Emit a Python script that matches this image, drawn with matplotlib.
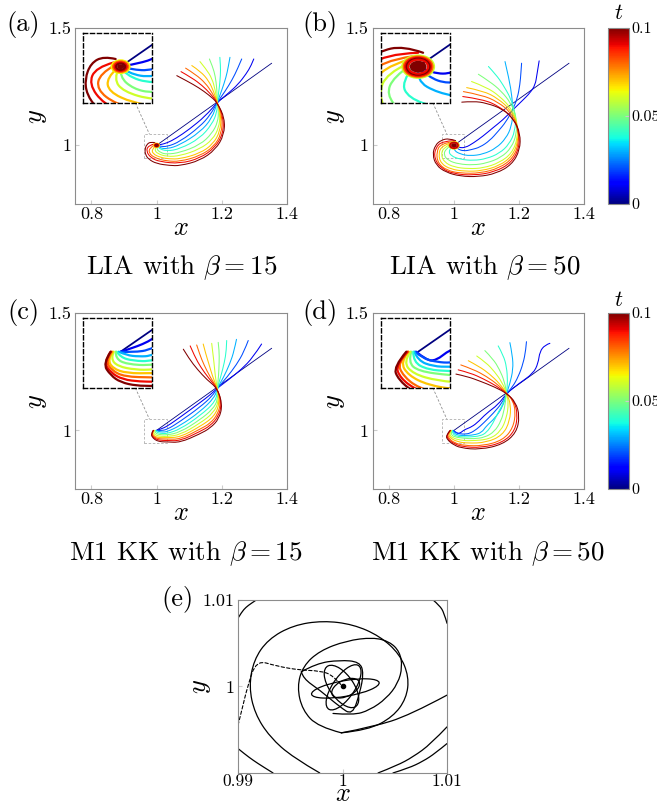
import matplotlib
matplotlib.use('Agg')
import matplotlib.pyplot as plt
from matplotlib.patches import Circle, Ellipse, Rectangle, PathPatch
from matplotlib.path import Path
from matplotlib.colors import Normalize
from matplotlib.cm import ScalarMappable

plt.rcParams['font.family'] = 'serif'
plt.rcParams['font.serif'] = ['cmr10']
plt.rcParams['mathtext.fontset'] = 'cm'
plt.rcParams['axes.unicode_minus'] = False
plt.rcParams['axes.formatter.use_mathtext'] = True

# temps des instantanés (couleur jet)
times = [0.0, 0.01, 0.02, 0.03, 0.04, 0.05, 0.06, 0.07, 0.08, 0.09, 0.1]

# (a) LIA beta = 15
curves_a = [
    [(1.0, 1.0), (1.353, 1.35)],
    [(1.0, 1.0), (1.012, 1.003), (1.032, 1.01), (1.06, 1.03), (1.1, 1.068), (1.15, 1.125), (1.186, 1.183), (1.22, 1.222), (1.25, 1.26), (1.275, 1.305), (1.29, 1.34), (1.298, 1.368)],
    [(1.0, 1.0), (1.01, 0.996), (1.032, 0.994), (1.072, 1.016), (1.133, 1.08), (1.165, 1.13), (1.186, 1.183), (1.21, 1.23), (1.232, 1.28), (1.248, 1.325), (1.261, 1.368)],
    [(1.0, 1.0), (1.008, 0.99), (1.032, 0.984), (1.072, 1.002), (1.133, 1.056), (1.17, 1.115), (1.186, 1.183), (1.2, 1.235), (1.213, 1.29), (1.22, 1.335), (1.225, 1.375)],
    [(1.0, 1.0), (1.005, 0.987), (1.032, 0.975), (1.072, 0.985), (1.133, 1.03), (1.17, 1.09), (1.185, 1.14), (1.186, 1.183), (1.192, 1.24), (1.196, 1.3), (1.196, 1.34), (1.194, 1.375)],
    [(1.0, 1.0), (0.999, 0.985), (1.013, 0.968), (1.032, 0.962), (1.072, 0.969), (1.133, 1.002), (1.17, 1.05), (1.188, 1.1), (1.19, 1.145), (1.186, 1.183), (1.185, 1.24), (1.18, 1.295), (1.172, 1.335), (1.162, 1.368)],
    [(0.998, 0.998), (0.993, 0.982), (1.003, 0.964), (1.032, 0.952), (1.072, 0.955), (1.133, 0.984), (1.172, 1.025), (1.191, 1.075), (1.195, 1.13), (1.186, 1.183), (1.18, 1.235), (1.17, 1.285), (1.152, 1.325), (1.133, 1.357)],
    [(0.996, 0.997), (0.986, 0.984), (0.988, 0.964), (1.012, 0.948), (1.04, 0.942), (1.072, 0.942), (1.133, 0.966), (1.173, 1.005), (1.195, 1.06), (1.198, 1.125), (1.186, 1.183), (1.175, 1.23), (1.16, 1.275), (1.135, 1.315), (1.108, 1.34)],
    [(0.994, 1.002), (0.979, 0.99), (0.976, 0.967), (0.995, 0.946), (1.03, 0.933), (1.072, 0.931), (1.133, 0.955), (1.176, 0.995), (1.199, 1.05), (1.202, 1.12), (1.186, 1.183), (1.17, 1.225), (1.15, 1.265), (1.12, 1.302), (1.089, 1.329)],
    [(0.993, 1.006), (0.975, 0.999), (0.968, 0.975), (0.983, 0.946), (1.01, 0.93), (1.072, 0.922), (1.133, 0.945), (1.179, 0.99), (1.204, 1.05), (1.205, 1.12), (1.186, 1.183), (1.165, 1.22), (1.14, 1.255), (1.108, 1.288), (1.075, 1.314)],
    [(0.995, 1.011), (0.983, 1.015), (0.97, 1.005), (0.964, 0.982), (0.966, 0.96), (0.976, 0.94), (1.0, 0.922), (1.04, 0.914), (1.072, 0.913), (1.133, 0.935), (1.181, 0.982), (1.207, 1.045), (1.209, 1.115), (1.186, 1.183), (1.16, 1.215), (1.13, 1.245), (1.095, 1.273), (1.062, 1.297)],
]
core_a_r = [0.009, 0.0075, 0.006, 0.0045]
core_a_t = [0.065, 0.08, 0.09, 0.1]
core_a_fill = 0.0035

# (b) LIA beta = 50
curves_b = [
    [(1.0, 1.0), (1.354, 1.35)],
    [(1.0, 1.0), (1.015, 0.99), (1.035, 0.99), (1.06, 1.01), (1.09, 1.04), (1.12, 1.075), (1.15, 1.108), (1.18, 1.15), (1.21, 1.19), (1.235, 1.225), (1.25, 1.258), (1.255, 1.3), (1.262, 1.36)],
    [(1.0, 1.0), (1.01, 0.985), (1.03, 0.975), (1.055, 0.982), (1.08, 0.992), (1.11, 1.02), (1.136, 1.06), (1.16, 1.1), (1.18, 1.15), (1.195, 1.2), (1.203, 1.26), (1.206, 1.31), (1.208, 1.35)],
    [(1.0, 1.0), (0.998, 0.98), (1.02, 0.962), (1.05, 0.955), (1.09, 0.962), (1.13, 0.988), (1.16, 1.03), (1.177, 1.08), (1.182, 1.145), (1.178, 1.21), (1.17, 1.28), (1.157, 1.357)],
    [(0.995, 1.0), (0.983, 0.978), (0.99, 0.955), (1.02, 0.94), (1.06, 0.935), (1.1, 0.943), (1.14, 0.966), (1.17, 1.005), (1.188, 1.06), (1.19, 1.13), (1.175, 1.2), (1.15, 1.26), (1.13, 1.3), (1.106, 1.336)],
    [(0.992, 1.002), (0.975, 0.985), (0.968, 0.96), (0.982, 0.935), (1.015, 0.92), (1.06, 0.916), (1.1, 0.924), (1.145, 0.948), (1.177, 0.99), (1.193, 1.05), (1.193, 1.12), (1.175, 1.18), (1.145, 1.232), (1.11, 1.272), (1.075, 1.303)],
    [(0.99, 1.005), (0.968, 0.99), (0.96, 0.96), (0.97, 0.928), (1.0, 0.907), (1.045, 0.9), (1.09, 0.903), (1.14, 0.926), (1.178, 0.966), (1.196, 1.03), (1.195, 1.1), (1.175, 1.16), (1.14, 1.21), (1.1, 1.248), (1.054, 1.272)],
    [(0.99, 1.01), (0.962, 0.998), (0.952, 0.962), (0.96, 0.922), (0.99, 0.898), (1.035, 0.889), (1.085, 0.891), (1.14, 0.913), (1.18, 0.955), (1.198, 1.02), (1.196, 1.09), (1.175, 1.15), (1.135, 1.2), (1.09, 1.232), (1.039, 1.246)],
    [(0.995, 1.015), (0.96, 1.008), (0.946, 0.972), (0.95, 0.925), (0.978, 0.893), (1.02, 0.881), (1.08, 0.881), (1.14, 0.903), (1.182, 0.946), (1.2, 1.01), (1.197, 1.08), (1.175, 1.14), (1.135, 1.185), (1.085, 1.215), (1.029, 1.229)],
    [(1.0, 1.02), (0.965, 1.018), (0.943, 0.99), (0.939, 0.945), (0.96, 0.902), (1.0, 0.878), (1.06, 0.872), (1.125, 0.886), (1.177, 0.926), (1.201, 0.99), (1.2, 1.06), (1.18, 1.12), (1.14, 1.165), (1.09, 1.196), (1.027, 1.208)],
    [(1.005, 1.02), (0.985, 1.03), (0.96, 1.022), (0.942, 1.0), (0.934, 0.96), (0.945, 0.915), (0.975, 0.885), (1.02, 0.868), (1.075, 0.866), (1.13, 0.88), (1.178, 0.918), (1.203, 0.98), (1.204, 1.05), (1.185, 1.11), (1.15, 1.155), (1.1, 1.18), (1.06, 1.188), (1.024, 1.184)],
]
core_b_r = [0.016, 0.0145, 0.013, 0.0115, 0.01]
core_b_t = [0.06, 0.08, 0.09, 0.1, 0.09]
core_b_fill = 0.0085

# (c) M1 KK beta = 15
curves_c = [
    [(1.0, 1.0), (1.353, 1.35)],
    [(1.0, 1.0), (1.012, 1.005), (1.032, 1.017), (1.072, 1.056), (1.133, 1.118), (1.165, 1.152), (1.186, 1.18), (1.22, 1.215), (1.26, 1.26), (1.295, 1.31), (1.322, 1.368)],
    [(1.0, 1.0), (1.012, 0.999), (1.032, 1.003), (1.072, 1.038), (1.133, 1.099), (1.17, 1.145), (1.186, 1.18), (1.215, 1.225), (1.245, 1.28), (1.268, 1.335), (1.281, 1.383)],
    [(0.998, 1.0), (1.006, 0.995), (1.018, 0.993), (1.032, 0.994), (1.072, 1.02), (1.133, 1.079), (1.178, 1.14), (1.186, 1.18), (1.205, 1.225), (1.225, 1.285), (1.238, 1.34), (1.245, 1.388)],
    [(0.996, 1.0), (1.0, 0.992), (1.012, 0.987), (1.032, 0.986), (1.072, 1.005), (1.133, 1.062), (1.183, 1.125), (1.186, 1.18), (1.197, 1.23), (1.208, 1.29), (1.214, 1.34), (1.215, 1.383)],
    [(0.995, 1.0), (0.995, 0.99), (1.006, 0.982), (1.032, 0.98), (1.072, 0.992), (1.133, 1.045), (1.172, 1.09), (1.188, 1.13), (1.186, 1.18), (1.19, 1.23), (1.192, 1.29), (1.192, 1.34), (1.189, 1.375)],
    [(0.993, 1.0), (0.99, 0.99), (0.997, 0.979), (1.015, 0.974), (1.032, 0.974), (1.072, 0.981), (1.133, 1.03), (1.175, 1.075), (1.191, 1.125), (1.186, 1.18), (1.18, 1.23), (1.176, 1.29), (1.172, 1.335), (1.169, 1.371)],
    [(0.992, 1.0), (0.987, 0.989), (0.992, 0.976), (1.006, 0.969), (1.032, 0.969), (1.072, 0.971), (1.133, 1.016), (1.178, 1.06), (1.194, 1.12), (1.186, 1.18), (1.172, 1.228), (1.16, 1.285), (1.15, 1.33), (1.143, 1.368)],
    [(0.991, 1.0), (0.985, 0.987), (0.991, 0.973), (1.004, 0.964), (1.032, 0.963), (1.072, 0.962), (1.133, 1.005), (1.165, 1.03), (1.188, 1.07), (1.197, 1.12), (1.186, 1.18), (1.165, 1.225), (1.145, 1.28), (1.132, 1.325), (1.123, 1.364)],
    [(0.99, 1.0), (0.983, 0.985), (0.99, 0.97), (1.002, 0.96), (1.02, 0.957), (1.032, 0.957), (1.072, 0.955), (1.133, 0.995), (1.165, 1.02), (1.19, 1.06), (1.2, 1.115), (1.186, 1.18), (1.16, 1.222), (1.135, 1.27), (1.117, 1.315), (1.103, 1.36)],
    [(0.99, 1.0), (0.982, 0.983), (0.99, 0.966), (1.0, 0.956), (1.016, 0.951), (1.032, 0.951), (1.072, 0.948), (1.133, 0.985), (1.165, 1.01), (1.192, 1.05), (1.202, 1.11), (1.186, 1.18), (1.155, 1.215), (1.125, 1.26), (1.1, 1.305), (1.082, 1.346)],
]

# (d) M1 KK beta = 50
curves_d = [
    [(1.0, 1.0), (1.354, 1.35)],
    [(0.998, 1.0), (1.008, 0.988), (1.018, 0.987), (1.032, 1.003), (1.05, 1.012), (1.07, 1.03), (1.1, 1.073), (1.136, 1.11), (1.162, 1.158), (1.2, 1.2), (1.244, 1.243), (1.259, 1.286), (1.264, 1.336), (1.28, 1.364), (1.295, 1.371)],
    [(0.997, 1.0), (1.005, 0.99), (1.02, 0.985), (1.032, 0.984), (1.049, 0.987), (1.07, 1.005), (1.09, 1.03), (1.121, 1.073), (1.147, 1.115), (1.162, 1.158), (1.18, 1.185), (1.198, 1.229), (1.213, 1.286), (1.221, 1.343), (1.223, 1.378)],
    [(0.996, 1.0), (1.0, 0.987), (1.015, 0.979), (1.032, 0.978), (1.06, 0.98), (1.085, 0.99), (1.1, 1.02), (1.125, 1.05), (1.15, 1.1), (1.162, 1.158), (1.172, 1.2), (1.182, 1.26), (1.18, 1.32), (1.172, 1.374)],
    [(0.995, 1.0), (0.995, 0.985), (1.01, 0.974), (1.032, 0.972), (1.05, 0.972), (1.08, 0.976), (1.1, 0.99), (1.12, 1.03), (1.135, 1.075), (1.15, 1.11), (1.162, 1.158), (1.165, 1.21), (1.162, 1.27), (1.152, 1.32), (1.136, 1.36)],
    [(0.993, 1.0), (0.99, 0.985), (1.0, 0.972), (1.032, 0.966), (1.06, 0.964), (1.095, 0.97), (1.125, 0.995), (1.145, 1.04), (1.155, 1.09), (1.162, 1.158), (1.155, 1.21), (1.14, 1.26), (1.12, 1.305), (1.095, 1.34)],
    [(0.992, 1.0), (0.985, 0.985), (0.995, 0.968), (1.02, 0.958), (1.05, 0.955), (1.11, 0.962), (1.145, 0.998), (1.162, 1.055), (1.168, 1.115), (1.162, 1.158), (1.148, 1.205), (1.125, 1.25), (1.098, 1.29), (1.07, 1.317)],
    [(0.99, 1.0), (0.982, 0.985), (0.99, 0.966), (1.01, 0.952), (1.04, 0.945), (1.1, 0.948), (1.15, 0.98), (1.172, 1.04), (1.175, 1.11), (1.162, 1.158), (1.14, 1.2), (1.11, 1.24), (1.078, 1.272), (1.044, 1.297)],
    [(0.99, 1.0), (0.979, 0.984), (0.985, 0.965), (1.0, 0.948), (1.03, 0.935), (1.09, 0.934), (1.15, 0.958), (1.182, 1.01), (1.19, 1.08), (1.18, 1.13), (1.162, 1.158), (1.135, 1.195), (1.1, 1.23), (1.06, 1.26), (1.021, 1.279)],
    [(0.989, 1.0), (0.977, 0.981), (0.982, 0.962), (0.998, 0.945), (1.025, 0.93), (1.085, 0.926), (1.15, 0.948), (1.188, 0.998), (1.196, 1.07), (1.185, 1.125), (1.162, 1.158), (1.13, 1.19), (1.09, 1.22), (1.05, 1.245), (1.013, 1.258)],
    [(0.988, 1.0), (0.975, 0.978), (0.98, 0.96), (0.995, 0.942), (1.02, 0.925), (1.08, 0.918), (1.15, 0.94), (1.192, 0.99), (1.202, 1.06), (1.19, 1.12), (1.162, 1.158), (1.125, 1.185), (1.08, 1.21), (1.04, 1.23), (1.006, 1.24)],
]

# (e) trajectoire du coeur
e_big = [(0.99782, 0.99), (0.99526, 0.99178), (0.99303, 0.99417), (0.9916, 0.99688), (0.99105, 0.99996), (0.9915, 1.00305), (0.99287, 1.00545), (0.99526, 1.00707), (0.99813, 1.00761), (1.00101, 1.00718), (1.00356, 1.00583), (1.00547, 1.00375), (1.00636, 1.00112), (1.00611, 0.99861), (1.00483, 0.99649), (1.00244, 0.99495), (0.99989, 0.99464)]
e_mid = [(0.99989, 0.99464), (0.99766, 0.99533), (0.99616, 0.99726), (0.99565, 0.99996), (0.99622, 1.00236), (0.99782, 1.00413), (1.00037, 1.00529), (1.00292, 1.00568), (1.00451, 1.00518), (1.00547, 1.00402), (1.00573, 1.00228), (1.00531, 1.00035), (1.0042, 0.99861), (1.0026, 0.99726), (1.00101, 0.99668), (0.99909, 0.99688)]
e_petal = [(0.99606, 1.0017), (0.9975, 1.00267), (0.99973, 1.00305), (1.00164, 1.00286), (1.00203, 1.00151), (1.00164, 0.99919), (1.00094, 0.99668), (0.99973, 0.99765), (0.99782, 0.99958), (0.99622, 1.00093), (0.99606, 1.0017)]
e_tail = [(0.99989, 0.99464), (1.00292, 0.99533), (1.00643, 0.99668), (1.01, 0.999)]
e_arcs = [
    [(0.99, 1.0079), (0.99035, 1.0086), (0.99075, 1.00915), (0.99125, 1.0096), (0.99175, 1.01)],
    [(1.00866, 1.01), (1.0093, 1.00935), (1.00972, 1.0085), (1.01, 1.0073)],
    [(0.99, 0.99282), (0.99065, 0.99218), (0.99144, 0.99147), (0.99235, 0.99075), (0.99335, 0.99)],
    [(1.0034, 0.99), (1.0052, 0.99085), (1.00675, 0.99186), (1.00845, 0.99335), (1.01, 0.99533)],
    [(1.00483, 0.99), (1.0063, 0.99055), (1.0077, 0.99135), (1.0089, 0.9923), (1.01, 0.9934)],
]
e_dash = [(0.99, 0.99553), (0.9904, 0.99745), (0.9909, 0.99995), (0.99175, 1.00305), (0.99367, 1.00236), (0.9959, 1.00189), (0.99781, 1.00181), (0.99909, 1.00131), (1.0, 1.0)]
e_ell_cx = [1.00027, 1.0001, 0.9999, 1.0003]
e_ell_cy = [0.99977, 0.9999, 1.0, 0.9998]
e_ell_w = [0.0066, 0.0058, 0.0054, 0.003]
e_ell_h = [0.0018, 0.0022, 0.0024, 0.0018]
e_ell_ang = [12, 62, 118, 35]

cmap = plt.get_cmap('jet')
norm = Normalize(0, 0.1)
GRAY = '#8c8c8c'
TICK_FS = 13


def lisse(pts):
    # chemin de Bezier quadratique (les points lus servent de polygone de controle)
    if len(pts) == 2:
        return Path([pts[0], pts[1]], [Path.MOVETO, Path.LINETO])
    verts = [pts[0]]
    codes = [Path.MOVETO]
    for i in range(1, len(pts) - 1):
        if i == len(pts) - 2:
            fin = pts[i + 1]
        else:
            fin = ((pts[i][0] + pts[i + 1][0]) / 2, (pts[i][1] + pts[i + 1][1]) / 2)
        verts += [pts[i], fin]
        codes += [Path.CURVE3, Path.CURVE3]
    return Path(verts, codes)


def trait(ax, pts, color, lw, ls='-', z=2):
    ax.add_patch(PathPatch(lisse(pts), fill=False, ec=color, lw=lw, ls=ls,
                           joinstyle='round', capstyle='round', zorder=z))


def tracer_courbes(ax, curves, lw):
    for t, pts in zip(times, curves):
        w = lw * 0.8 if t == 0 else lw
        trait(ax, pts, cmap(norm(t)), w)


def tracer_coeur(ax, radii, rtimes, fill_r, lw):
    for r, t in zip(radii, rtimes):
        ax.add_patch(Circle((1.0, 1.0), r, fill=False, ec=cmap(norm(t)), lw=lw, zorder=3))
    ax.add_patch(Circle((1.0, 1.0), fill_r, fc=cmap(norm(0.1)), ec='none', zorder=4))


def style_axes(ax, xpad=2):
    for s in ax.spines.values():
        s.set_color(GRAY)
        s.set_linewidth(0.8)
    ax.tick_params(direction='in', length=3, color='#cccccc', labelsize=TICK_FS)
    ax.tick_params(axis='x', pad=xpad)
    ax.tick_params(axis='y', pad=3)


def labels_xy(ax, xl_y, yl_x):
    ax.set_xlabel('$x$', fontsize=19, va='baseline')
    ax.xaxis.set_label_coords(0.5, xl_y)
    ax.set_ylabel('$y$', fontsize=19, va='center')
    ax.yaxis.set_label_coords(yl_x, 0.5)


def panneau(ax, curves, core=None):
    ax.set_xlim(0.75, 1.4)
    ax.set_ylim(0.75, 1.5)
    ax.set_xticks([0.8, 1, 1.2, 1.4])
    ax.set_xticklabels(['0.8', '1', '1.2', '1.4'])
    ax.set_yticks([1, 1.5])
    ax.set_yticklabels(['1', '1.5'])
    style_axes(ax)
    labels_xy(ax, -0.176, -0.18)
    tracer_courbes(ax, curves, 0.75)
    if core is not None:
        tracer_coeur(ax, core[0], core[1], core[2], 0.8)
    # boite du zoom
    ax.add_patch(Rectangle((0.962, 0.948), 0.07, 0.1, fill=False, ec='#b0b0b0',
                           ls=(0, (3, 2)), lw=0.6, zorder=1))
    ax.plot([0.935, 0.978], [1.181, 1.048], color='#909090', ls=(0, (3, 2)), lw=0.6)
    # encart
    ins = ax.inset_axes([0.037, 0.575, 0.328, 0.395])
    ins.set_xlim(0.962, 1.032)
    ins.set_ylim(0.948, 1.048)
    ins.set_xticks([])
    ins.set_yticks([])
    for s in ins.spines.values():
        s.set_color('k')
        s.set_linewidth(1.0)
        s.set_linestyle((0, (3, 2)))
    tracer_courbes(ins, curves, 1.6)
    if core is not None:
        tracer_coeur(ins, core[0], core[1], core[2], 1.6)


def barre(fig, rect, ty):
    cax = fig.add_axes(rect)
    cb = fig.colorbar(ScalarMappable(norm=norm, cmap=cmap), cax=cax, ticks=[0, 0.05, 0.1])
    cb.ax.set_yticklabels(['0', '0.05', '0.1'])
    cb.outline.set_edgecolor(GRAY)
    cb.outline.set_linewidth(0.8)
    cax.tick_params(direction='in', length=3, color='#cccccc', labelsize=11.5, pad=1.5)
    fig.text(rect[0] + rect[2] / 2, ty, '$t$', fontsize=16, ha='center', va='center')


fig = plt.figure(figsize=(6.57, 8.05), dpi=100)

ax_a = fig.add_axes([0.1142, 0.7466, 0.3227, 0.2186])
ax_b = fig.add_axes([0.5673, 0.7466, 0.3216, 0.2186])
ax_c = fig.add_axes([0.1142, 0.3925, 0.3227, 0.2186])
ax_d = fig.add_axes([0.5673, 0.3925, 0.3216, 0.2186])
ax_e = fig.add_axes([0.3623, 0.0398, 0.3181, 0.2149])

panneau(ax_a, curves_a, (core_a_r, core_a_t, core_a_fill))
panneau(ax_b, curves_b, (core_b_r, core_b_t, core_b_fill))
panneau(ax_c, curves_c)
panneau(ax_d, curves_d)

barre(fig, [0.9254, 0.7466, 0.032, 0.2186], 1 - 13 / 805)
barre(fig, [0.9254, 0.3925, 0.032, 0.2186], 1 - 300 / 805)

# panneau (e)
ax_e.set_xlim(0.99, 1.01)
ax_e.set_ylim(0.99, 1.01)
ax_e.set_xticks([0.99, 1, 1.01])
ax_e.set_xticklabels(['0.99', '1', '1.01'])
ax_e.set_yticks([1, 1.01])
ax_e.set_yticklabels(['1', '1.01'])
style_axes(ax_e, xpad=0.5)
ax_e.tick_params(axis='x', labelsize=12.5)
labels_xy(ax_e, -0.163, -0.175)
for pts in [e_big, e_mid, e_petal, e_tail] + e_arcs:
    trait(ax_e, pts, 'k', 0.9)
trait(ax_e, e_dash, 'k', 0.8, ls=(0, (3, 2)))
for cx, cy, w, h, a in zip(e_ell_cx, e_ell_cy, e_ell_w, e_ell_h, e_ell_ang):
    ax_e.add_patch(Ellipse((cx, cy), w, h, angle=a, fill=False, ec='k', lw=0.9))
ax_e.plot([1.0], [1.0], 'o', color='k', ms=3)

# titres et étiquettes
fig.text(0.277, 1 - 268 / 805, r'LIA with $\beta=15$', fontsize=19.5, ha='center', va='center')
fig.text(0.738, 1 - 268 / 805, r'LIA with $\beta=50$', fontsize=19.5, ha='center', va='center')
fig.text(0.283, 1 - 554 / 805, r'M1 KK with $\beta=15$', fontsize=19.5, ha='center', va='center')
fig.text(0.742, 1 - 554 / 805, r'M1 KK with $\beta=50$', fontsize=19.5, ha='center', va='center')
for lab, x, y in [('(a)', 23, 24), ('(b)', 320, 24), ('(c)', 23, 312), ('(d)', 320, 312), ('(e)', 178, 599)]:
    fig.text(x / 657, 1 - y / 805, lab, fontsize=19, ha='center', va='center')

fig.savefig('out.png', dpi=100)
